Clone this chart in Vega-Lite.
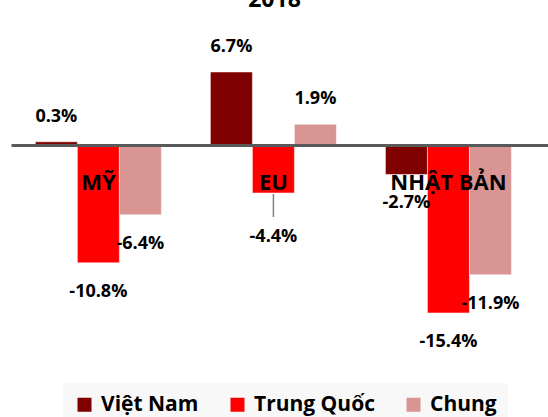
{
  "$schema": "https://vega.github.io/schema/vega-lite/v6.json",
  "width": 537,
  "height": 320,
  "autosize": "none",
  "padding": {"left": 11, "top": 30, "right": 0, "bottom": 67},
  "background": "white",
  "title": {"text": "2018", "fontSize": 23, "font": "Open Sans", "fontWeight": "bold", "color": "black", "offset": 18, "anchor": "middle", "dx": -5},
  "config": {"view": {"stroke": null}, "font": "Open Sans"},
  "data": {"values": [
    {"region": "MỸ", "series": "Việt Nam", "value": 0.3},
    {"region": "MỸ", "series": "Trung Quốc", "value": -10.8},
    {"region": "MỸ", "series": "Chung", "value": -6.4},
    {"region": "EU", "series": "Việt Nam", "value": 6.7},
    {"region": "EU", "series": "Trung Quốc", "value": -4.4},
    {"region": "EU", "series": "Chung", "value": 1.9},
    {"region": "NHẬT BẢN", "series": "Việt Nam", "value": -2.7},
    {"region": "NHẬT BẢN", "series": "Trung Quốc", "value": -15.4},
    {"region": "NHẬT BẢN", "series": "Chung", "value": -11.9}
  ]},
  "transform": [
    {"calculate": "(datum.value < 0 ? '-' : '') + format(abs(datum.value), '.1f') + '%'", "as": "label"}
  ],
  "encoding": {
    "x": {"field": "region", "type": "nominal", "sort": ["MỸ", "EU", "NHẬT BẢN"],
      "scale": {"paddingInner": 0.28, "paddingOuter": 0.174, "align": 0.4},
      "axis": {"orient": "bottom", "offset": -205, "title": null, "ticks": false, "labelAngle": 0,
        "domainColor": "#595959", "domainWidth": 3, "labelFontSize": 22, "labelFontWeight": "bold",
        "labelColor": "black", "labelPadding": 27, "labelFont": "Open Sans", "zindex": 1}},
    "xOffset": {"field": "series", "type": "nominal", "sort": ["Việt Nam", "Trung Quốc", "Chung"], "scale": {"paddingInner": 0, "paddingOuter": 0}},
    "y": {"field": "value", "type": "quantitative", "scale": {"domain": [-18.8, 10.55], "nice": false, "zero": false}, "axis": null}
  },
  "layer": [
    {
      "mark": {"type": "bar", "stroke": "white", "strokeWidth": 0.5},
      "encoding": {
        "color": {"field": "series", "type": "nominal",
          "scale": {"domain": ["Việt Nam", "Trung Quốc", "Chung"], "range": ["#7f0000", "#ff0000", "#d99594"]},
          "legend": {"orient": "none", "legendX": 52, "legendY": 353, "direction": "horizontal", "title": null,
            "symbolType": "square", "symbolSize": 196, "symbolStrokeWidth": 0, "labelFontSize": 21,
            "labelFontWeight": "bold", "labelColor": "black", "labelFont": "Open Sans", "columnPadding": 28, "labelOffset": 6,
            "fillColor": "#f8f8f8", "padding": 11, "labelLimit": 300}}
      }
    },
    {
      "transform": [{"filter": "datum.value >= 0"}],
      "mark": {"type": "text", "baseline": "middle", "dy": -25, "fontSize": 18, "fontWeight": "bold", "color": "black", "font": "Open Sans"},
      "encoding": {"text": {"field": "label"}}
    },
    {
      "transform": [{"filter": "datum.value < 0 && !(datum.region == 'EU' && datum.series == 'Trung Quốc')"}],
      "mark": {"type": "text", "baseline": "middle", "dy": 29, "fontSize": 18, "fontWeight": "bold", "color": "black", "font": "Open Sans"},
      "encoding": {"text": {"field": "label"}}
    },
    {
      "transform": [{"filter": "datum.region == 'EU' && datum.series == 'Trung Quốc'"}],
      "mark": {"type": "text", "baseline": "middle", "dy": 44, "fontSize": 18, "fontWeight": "bold", "color": "black", "font": "Open Sans"},
      "encoding": {"text": {"field": "label"}}
    },
    {
      "transform": [{"filter": "datum.region == 'EU' && datum.series == 'Trung Quốc'"}],
      "mark": {"type": "rule", "color": "#808080", "strokeWidth": 1.5},
      "encoding": {"y": {"datum": -4.5}, "y2": {"datum": -6.6}}
    }
  ]
}
